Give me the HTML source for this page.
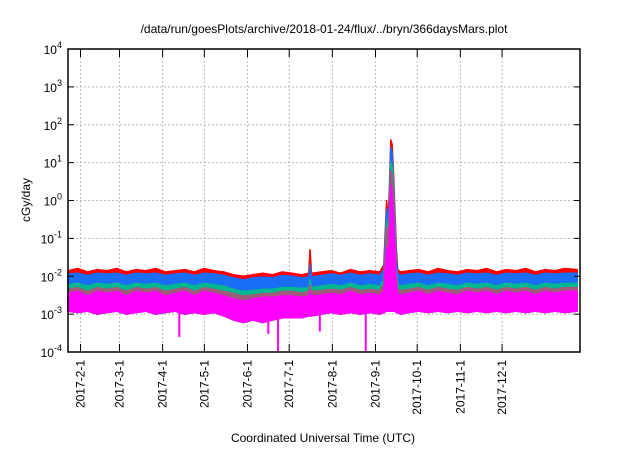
<!DOCTYPE html>
<html><head><meta charset="utf-8"><style>
body{margin:0;background:#fff;width:640px;height:448px;overflow:hidden;font-family:"Liberation Sans",sans-serif}
</style></head><body>
<svg width="640" height="448" xmlns="http://www.w3.org/2000/svg">
<text x="324" y="33" text-anchor="middle" font-size="12">/data/run/goesPlots/archive/2018-01-24/flux/../bryn/366daysMars.plot</text>
<g id="grid"></g>
<g id="series"></g>
<rect x="68" y="49" width="512" height="303" fill="none" stroke="#000" stroke-width="1.5"/>
<g id="axes"></g>
<text transform="translate(30,200) rotate(-90)" text-anchor="middle" font-size="12">cGy/day</text>
<text x="323" y="442" text-anchor="middle" font-size="12">Coordinated Universal Time (UTC)</text>
</svg>
<script>
const days=[0,7,14,21,28,35,42,49,56,63,70,77,84,91,98,105,112,119,126,133,140,147,154,161,168,173,174,175,182,189,196,203,210,217,224,227,229,230,231,232,233,234,235,236,237,239,245,252,259,266,273,280,287,294,301,308,315,322,329,336,343,350,357,366];
const red=[0.014,0.016,0.013,0.015,0.014,0.016,0.013,0.015,0.014,0.016,0.013,0.014,0.015,0.013,0.016,0.014,0.013,0.011,0.010,0.011,0.012,0.011,0.013,0.012,0.011,0.012,0.05,0.012,0.013,0.014,0.012,0.015,0.013,0.014,0.013,0.02,1.0,0.3,2,40,30,5,0.5,0.05,0.015,0.013,0.014,0.015,0.013,0.016,0.014,0.013,0.015,0.014,0.016,0.013,0.015,0.014,0.016,0.013,0.015,0.014,0.016,0.015];
const blue=[0.0115,0.012,0.0105,0.012,0.0115,0.012,0.0105,0.012,0.0115,0.012,0.0105,0.0115,0.012,0.0105,0.012,0.0115,0.0105,0.009,0.008,0.009,0.0095,0.009,0.0105,0.01,0.009,0.0095,0.02,0.0095,0.0105,0.0115,0.0105,0.012,0.0105,0.0115,0.0105,0.015,0.6,0.2,1.2,25,18,3,0.3,0.03,0.012,0.0105,0.0115,0.012,0.0105,0.012,0.0115,0.0105,0.012,0.0115,0.012,0.0105,0.012,0.0115,0.012,0.0105,0.012,0.0115,0.012,0.012];
const green=[0.006,0.0065,0.0055,0.0065,0.006,0.0065,0.0055,0.0065,0.006,0.0065,0.0055,0.006,0.0065,0.0055,0.0065,0.006,0.0055,0.0045,0.004,0.0042,0.0045,0.0045,0.005,0.005,0.0048,0.005,0.008,0.005,0.0055,0.006,0.0055,0.0065,0.0055,0.006,0.0055,0.008,0.3,0.1,0.6,10,8,1.5,0.15,0.015,0.006,0.0055,0.006,0.0065,0.0055,0.0065,0.006,0.0055,0.0065,0.006,0.0065,0.0055,0.0065,0.006,0.0065,0.0055,0.0065,0.006,0.0065,0.0065];
const brown=[0.0045,0.005,0.004,0.005,0.0045,0.005,0.004,0.005,0.0045,0.005,0.004,0.0045,0.005,0.004,0.005,0.0045,0.004,0.0035,0.003,0.0032,0.0035,0.0035,0.004,0.004,0.0036,0.004,0.006,0.004,0.0042,0.0045,0.0042,0.005,0.0042,0.0045,0.0042,0.006,0.2,0.07,0.4,6,5,1,0.1,0.01,0.0045,0.0042,0.0045,0.005,0.0042,0.005,0.0045,0.0042,0.005,0.0045,0.005,0.0042,0.005,0.0045,0.005,0.0042,0.005,0.0045,0.005,0.005];
const magTop=[0.0035,0.004,0.003,0.004,0.0035,0.004,0.003,0.004,0.0035,0.004,0.003,0.0035,0.004,0.003,0.004,0.0035,0.003,0.0025,0.0022,0.0025,0.0028,0.0028,0.003,0.003,0.0028,0.003,0.004,0.003,0.0032,0.0035,0.0032,0.004,0.0032,0.0035,0.0032,0.004,0.06,0.02,0.1,2.5,1.5,0.3,0.05,0.006,0.0035,0.0032,0.0035,0.004,0.0032,0.004,0.0035,0.0032,0.004,0.0035,0.004,0.0032,0.004,0.0035,0.004,0.0032,0.004,0.0035,0.004,0.004];
const magBot=[0.0012,0.0011,0.0012,0.0010,0.0011,0.0012,0.0010,0.0011,0.0012,0.0010,0.0011,0.0012,0.0010,0.0011,0.0010,0.0011,0.0009,0.0007,0.0006,0.0007,0.0006,0.0007,0.0008,0.0008,0.0008,0.0009,0.0009,0.0009,0.0010,0.0011,0.0010,0.0011,0.0010,0.0011,0.0010,0.0011,0.0012,0.0012,0.0012,0.0012,0.0012,0.0012,0.0012,0.0011,0.0011,0.0010,0.0011,0.0012,0.0011,0.0012,0.0011,0.0012,0.0011,0.0012,0.0011,0.0012,0.0011,0.0012,0.0011,0.0012,0.0011,0.0012,0.0011,0.0012];
const dipDays=[80,144,151,181,214];
const dipVals=[0.00025,0.0003,0.0001,0.00035,0.0001];
const yExps=[-4,-3,-2,-1,0,1,2,3,4];
const xTickLabels=["2017-2-1","2017-3-1","2017-4-1","2017-5-1","2017-6-1","2017-7-1","2017-8-1","2017-9-1","2017-10-1","2017-11-1","2017-12-1"];
const xTickDays=[9,37,68,98,129,159,190,221,251,282,312];

const X0=68,X1=580,Y0=352,Y1=49,DMAX=368;
const NS="http://www.w3.org/2000/svg";
function xs(d){return X0+d/DMAX*(X1-X0);}
function ys(v){return Y0-(Math.log10(v)+4)/8*(Y0-Y1);}
function mk(t,a,p){const e=document.createElementNS(NS,t);for(const k in a)e.setAttribute(k,a[k]);p.appendChild(e);return e;}
const grid=document.getElementById('grid'),axes=document.getElementById('axes'),ser=document.getElementById('series');
yExps.forEach(e=>{
  const y=ys(Math.pow(10,e));
  if(e>-4&&e<4){const l=mk('line',{x1:X0,x2:X1,y1:y,y2:y,stroke:'#bbb','stroke-dasharray':'2,2'},grid);
  
  }
  mk('line',{x1:X0,x2:X0+6,y1:y,y2:y,stroke:'#000'},axes);
  mk('line',{x1:X1,x2:X1-6,y1:y,y2:y,stroke:'#000'},axes);
  const t=mk('text',{x:X0-6,y:y+5,'text-anchor':'end','font-size':'12'},axes);
  
  
  t.innerHTML='10<tspan dy="-6" font-size="9">'+e+'</tspan>';
});
xTickDays.forEach((d,i)=>{
  const x=xs(d);
  const l=mk('line',{x1:x,x2:x,y1:Y1,y2:Y0,stroke:'#bbb','stroke-dasharray':'2,2'},grid);
  
  
  mk('line',{x1:x,x2:x,y1:Y0,y2:Y0-8,stroke:'#000'},axes);
  mk('line',{x1:x,x2:x,y1:Y1,y2:Y1+8,stroke:'#000'},axes);
  const t=mk('text',{transform:`translate(${x+4},${Y0+8}) rotate(-90)`,'text-anchor':'end','font-size':'12'},axes);
  
  
  t.textContent=xTickLabels[i];
});
function band(top,bot,color,name){
  let p=days.map((d,i)=>xs(d)+','+ys(top[i])).join(' ');
  p+=' '+days.slice().reverse().map((d,j)=>{const i=days.length-1-j;return xs(d)+','+ys(bot[i]);}).join(' ');
  const e=mk('polygon',{points:p,fill:color,stroke:color,'stroke-width':'1.5','stroke-linejoin':'round'},ser);
  
  
}
band(red,magBot,'#ff0000','series-red');
band(blue,magBot,'#1a6ef5','series-blue');
band(green,magBot,'#00b890','series-green');
band(brown,magBot,'#a05a7a','series-brown');
band(magTop,magBot,'#ff00ff','series-magenta');
dipDays.forEach((d,i)=>{
  const e=mk('line',{x1:xs(d),x2:xs(d),y1:ys(magBot[0]),y2:ys(dipVals[i]),stroke:'#ff00ff','stroke-width':'2'},ser);
  
  
});
</script>
</body></html>
